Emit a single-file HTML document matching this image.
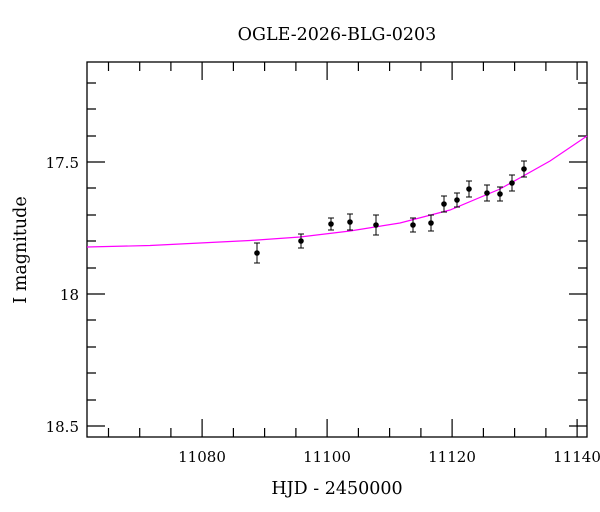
<!DOCTYPE html>
<html><head><meta charset="utf-8"><style>body{margin:0;background:#fff}svg{display:block}text{font-family:"DejaVu Serif",serif;font-size:15px;fill:#000}.w{font-size:17.5px}</style></head><body>
<svg width="600" height="512" xmlns="http://www.w3.org/2000/svg">
<rect x="87" y="62" width="500" height="375" fill="none" stroke="#000" stroke-width="1.3"/>
<g stroke="#000" stroke-width="1.2">
<path d="M108.5 437v-9M139.7 437v-9M170.9 437v-9M233.4 437v-9M264.6 437v-9M295.9 437v-9M358.4 437v-9M389.6 437v-9M420.9 437v-9M483.4 437v-9M514.6 437v-9M545.9 437v-9
M108.5 62v9M139.7 62v9M170.9 62v9M233.4 62v9M264.6 62v9M295.9 62v9M358.4 62v9M389.6 62v9M420.9 62v9M483.4 62v9M514.6 62v9M545.9 62v9"/>
<path d="M202.1 437v-18M327.1 437v-18M452.1 437v-18M577.1 437v-18M202.1 62v18M327.1 62v18M452.1 62v18M577.1 62v18"/>
<path d="M87 83h9M87 109h9M87 136h9M87 188h9M87 215h9M87 241h9M87 268h9M87 320h9M87 347h9M87 373h9M87 400h9
M587 83h-9M587 109h-9M587 136h-9M587 188h-9M587 215h-9M587 241h-9M587 268h-9M587 320h-9M587 347h-9M587 373h-9M587 400h-9"/>
<path d="M87 162h18M87 294h18M87 426h18M587 162h-18M587 294h-18M587 426h-18"/>
</g>
<text class="w" x="337" y="40" text-anchor="middle">OGLE-2026-BLG-0203</text>
<g text-anchor="middle">
<text x="202" y="462">11080</text><text x="327" y="462">11100</text><text x="452" y="462">11120</text><text x="577" y="462">11140</text>
<text class="w" x="337" y="494">HJD - 2450000</text>
</g>
<g text-anchor="end">
<text x="79" y="168">17.5</text><text x="79" y="300">18</text><text x="79" y="432">18.5</text>
</g>
<text class="w" transform="translate(26 250) rotate(-90)" text-anchor="middle">I magnitude</text>
<polyline fill="none" stroke="#f0f" stroke-width="1.2" points="87,247 150,245.5 200,243 250,240.5 300,237 350,231 400,223 450,210 500,189 550,161 587,136"/>
<g stroke="#000" stroke-width="1">
<path d="M257 243v20M254 243h6M254 263h6M301 234v14M298 234h6M298 248h6M331 218v12M328 218h6M328 230h6M350 214v16M347 214h6M347 230h6M376 215v20M373 215h6M373 235h6M413 218v14M410 218h6M410 232h6M431 215v16M428 215h6M428 231h6M444 196v16M441 196h6M441 212h6M457 193v14M454 193h6M454 207h6M469 181v16M466 181h6M466 197h6M487 185v16M484 185h6M484 201h6M500 187v14M497 187h6M497 201h6M512 175v16M509 175h6M509 191h6M524 161v16M521 161h6M521 177h6"/>
</g>
<g fill="#000">
<circle cx="257" cy="253" r="2.8"/><circle cx="301" cy="241" r="2.8"/><circle cx="331" cy="224" r="2.8"/><circle cx="350" cy="222" r="2.8"/><circle cx="376" cy="225" r="2.8"/><circle cx="413" cy="225" r="2.8"/><circle cx="431" cy="223" r="2.8"/><circle cx="444" cy="204" r="2.8"/><circle cx="457" cy="200" r="2.8"/><circle cx="469" cy="189" r="2.8"/><circle cx="487" cy="193" r="2.8"/><circle cx="500" cy="194" r="2.8"/><circle cx="512" cy="183" r="2.8"/><circle cx="524" cy="169" r="2.8"/>
</g>
</svg>
</body></html>
